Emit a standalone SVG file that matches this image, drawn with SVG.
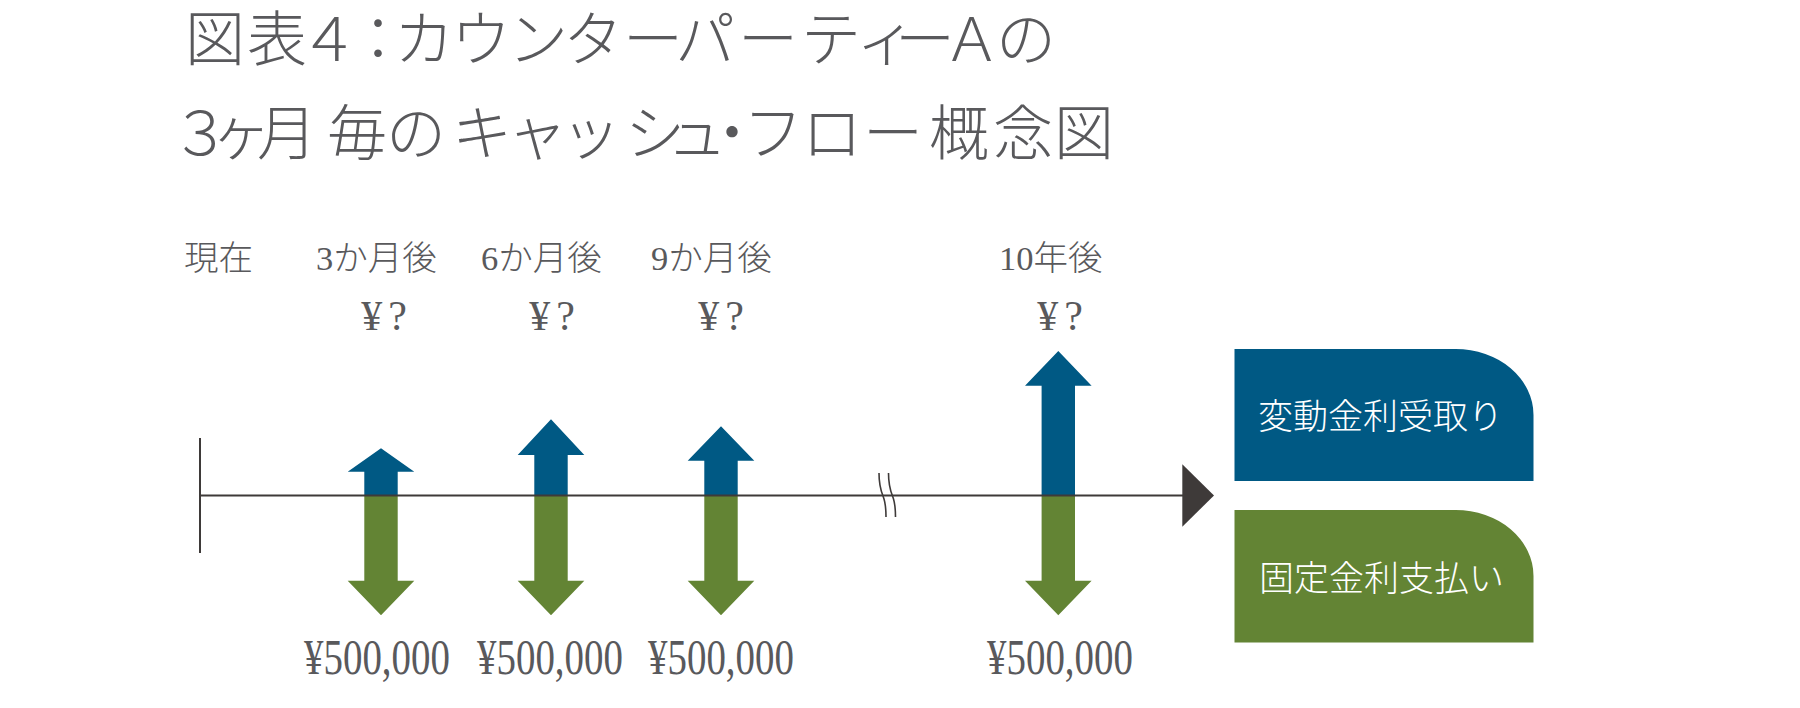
<svg xmlns="http://www.w3.org/2000/svg" width="1800" height="708" viewBox="0 0 1800 708">
<style>
.title{font-family:"Liberation Serif","Noto Sans CJK JP",serif;font-size:60px;fill:#59595c;font-weight:300}
.lbl{font-family:"Liberation Serif","Noto Sans CJK JP",serif;font-size:34.5px;fill:#59595c;font-weight:300}
.yen{font-family:"Liberation Serif","Noto Sans CJK JP",serif;font-size:42px;fill:#59595c;text-anchor:middle;letter-spacing:6px}
.amt{font-family:"Liberation Serif","Noto Sans CJK JP",serif;font-size:50px;fill:#59595c}
.box{font-family:"Liberation Serif","Noto Sans CJK JP",serif;font-size:35px;fill:#ffffff;font-weight:300}
.up{fill:#005984}
.down{fill:#638434}
.ax{stroke:#3e3a39;stroke-width:2;fill:none}
</style>
<rect width="1800" height="708" fill="#ffffff"/>
<g id="title">
<text class="title" x="185 247 299 348 394 451 508 563 623 675 738 801 856 895 942 996" y="61.3">図表４：カウンターパーティーＡの</text>
<text class="title" x="170.5 211 257 327 386 452 507 561 625 667 702 743 802 863 929 993 1054" y="155.3">３ヶ月毎のキャッシュ・フロー概念図</text>
</g>
<g id="t0">
<text class="lbl" x="184" y="270">現在</text>
</g>
<g id="t1">
<text class="lbl" x="316" y="270">3か月後</text>
<text class="yen" x="387" y="330">¥?</text>
<path class="up" d="M364.3,495.5 V471.7 H347.7 L381,448.3 L414.3,471.7 H397.7 V495.5 Z"/>
<path class="down" d="M364.3,495.5 V580.7 H347.7 L381,615.3 L414.3,580.7 H397.7 V495.5 Z"/>
<text class="amt" x="304" y="674" textLength="146" lengthAdjust="spacingAndGlyphs">¥500,000</text>
</g>
<g id="t2">
<text class="lbl" x="481" y="270">6か月後</text>
<text class="yen" x="555" y="330">¥?</text>
<path class="up" d="M534.3,495.5 V455 H517.7 L551,419.3 L584.3,455 H567.7 V495.5 Z"/>
<path class="down" d="M534.3,495.5 V580.7 H517.7 L551,615.3 L584.3,580.7 H567.7 V495.5 Z"/>
<text class="amt" x="477" y="674" textLength="146" lengthAdjust="spacingAndGlyphs">¥500,000</text>
</g>
<g id="t3">
<text class="lbl" x="651" y="270">9か月後</text>
<text class="yen" x="724" y="330">¥?</text>
<path class="up" d="M704.3,495.5 V460.7 H687.7 L721,426.3 L754.3,460.7 H737.7 V495.5 Z"/>
<path class="down" d="M704.3,495.5 V580.7 H687.7 L721,615.3 L754.3,580.7 H737.7 V495.5 Z"/>
<text class="amt" x="648" y="674" textLength="146" lengthAdjust="spacingAndGlyphs">¥500,000</text>
</g>
<g id="t40">
<text class="lbl" x="999" y="270">10年後</text>
<text class="yen" x="1063" y="330">¥?</text>
<path class="up" d="M1041.6,495.5 V385.7 H1025 L1058.3,351 L1091.6,385.7 H1075 V495.5 Z"/>
<path class="down" d="M1041.6,495.5 V580.7 H1025 L1058.3,615.3 L1091.6,580.7 H1075 V495.5 Z"/>
<text class="amt" x="987" y="674" textLength="146" lengthAdjust="spacingAndGlyphs">¥500,000</text>
</g>
<g id="connectors">
<line class="ax" x1="200" y1="438" x2="200" y2="553"/>
<line class="ax" x1="199" y1="495.5" x2="1186" y2="495.5"/>
<path d="M1182.3,464.3 L1214,495.5 L1182.3,526.7 Z" fill="#3e3a39"/>
<path class="ax" style="stroke-width:1.6" d="M879,473 C879,486 881,491 883,496 S886,507 886,517"/>
<path class="ax" style="stroke-width:1.6" d="M888.5,473 C888.5,486 890.5,491 892.5,496 S895.5,507 895.5,517"/>
</g>
<g id="legend-receive">
<path class="up" d="M1234.5,349 H1455.5 A78,66 0 0 1 1533.5,415 V481 H1234.5 Z"/>
<text class="box" x="1258" y="429">変動金利受取り</text>
</g>
<g id="legend-pay">
<path class="down" d="M1234.5,510 H1455.5 A78,66 0 0 1 1533.5,576 V642.5 H1234.5 Z"/>
<text class="box" x="1259" y="591">固定金利支払い</text>
</g>
</svg>
